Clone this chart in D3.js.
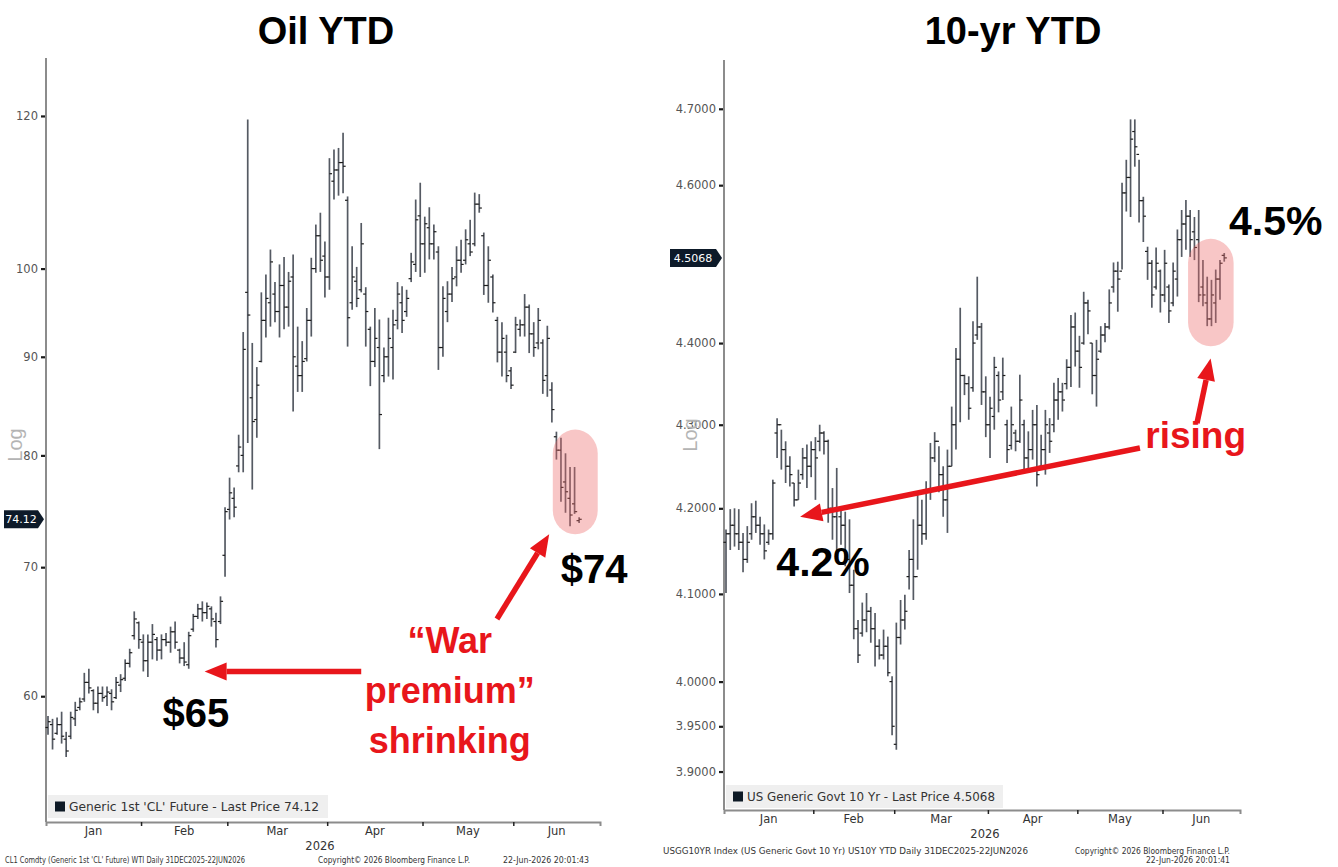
<!DOCTYPE html>
<html><head><meta charset="utf-8">
<script src="https://cdn.jsdelivr.net/npm/d3@7"></script>
<style>body{margin:0;background:#fff}svg{display:block}</style>
</head><body><svg id="c" width="1338" height="867"></svg>
<script>
// ---------- data ----------
const holidays = ["2026-01-01","2026-01-19","2026-02-16","2026-04-03","2026-05-25","2026-06-19"];
const monthLabels = ["Jan","Feb","Mar","Apr","May","Jun"];
const yearLabel = "2026";

const oilTicks = [60,70,80,90,100,120];
const oilHigh = [58.6,58.4,58.5,58.9,57.5,58.9,59.6,59.9,61.7,62.0,
 60.5,60.7,60.7,60.7,60.5,61.4,61.6,62.7,63.5,66.4,
 65.6,64.6,64.6,65.4,64.4,64.6,64.7,65.2,65.6,63.5,
 64.0,64.8,66.2,67.0,67.2,67.1,66.8,66.3,67.6,75.2,
 77.9,77.0,82.0,92.7,119.5,91.5,88.9,97.2,99.3,102.3,
 98.4,100.5,101.4,99.6,101.7,93.3,91.7,95.4,101.3,105.4,
 106.9,103.3,114.1,115.3,115.5,117.6,109.0,102.7,100.2,105.6,
 97.8,93.3,95.4,94.1,91.0,94.3,95.2,98.4,97.9,97.5,
 101.9,108.6,110.8,106.4,107.6,105.4,102.7,97.9,98.5,100.2,
 102.7,103.5,104.8,106.0,109.5,109.3,104.4,102.7,99.3,94.4,
 93.8,92.4,88.9,94.4,94.1,97.0,95.8,93.8,95.4,91.9,
 93.4,87.3,82.3,81.7,80.2,78.9,78.9,74.3];
const oilLow = [57.3,56.3,57.3,56.7,55.8,57.0,57.9,59.0,59.6,60.2,
 59.0,58.8,59.6,59.3,59.0,59.8,60.3,61.1,62.1,64.2,
 63.5,61.8,61.4,62.7,62.6,62.7,63.7,63.2,63.5,62.4,
 62.2,62.0,64.8,65.8,65.6,65.8,65.2,63.6,65.4,69.2,
 74.1,74.3,78.4,78.4,81.2,76.8,81.7,89.4,92.1,93.3,
 93.8,92.1,93.0,93.3,84.3,86.3,86.3,89.5,92.2,99.5,
 99.6,96.6,97.5,108.6,109.1,109.4,91.1,95.2,95.5,97.2,
 91.1,86.9,88.9,80.6,87.3,87.9,87.6,93.0,92.6,94.4,
 98.4,99.6,99.0,99.5,101.1,101.1,88.6,90.0,93.8,96.1,
 97.9,99.5,100.5,101.5,102.7,106.9,96.9,96.0,94.9,89.4,
 87.9,87.3,86.6,90.4,92.2,92.2,90.4,90.0,90.8,86.1,
 85.8,83.2,79.6,75.7,74.7,73.5,74.6,73.8];
const oilOpen = [57.8,58.0,57.4,58.0,57.0,57.2,58.4,59.2,59.8,61.0,
 60.4,59.5,60.2,60.0,60.2,59.9,60.8,61.3,62.4,64.5,
 65.5,64.0,62.6,64.0,64.2,63.4,64.2,64.0,64.8,63.4,
 62.8,62.3,65.0,66.0,66.6,66.3,66.6,65.6,65.6,71.0,
 75.0,76.0,79.0,80.0,97.2,85.7,83.5,89.5,94.0,96.0,
 97.0,95.0,98.0,95.5,99.0,89.0,88.0,89.8,94.0,100.0,
 104.0,101.5,99.0,111.0,112.5,113.5,108.5,96.0,98.5,97.5,
 97.0,93.0,89.5,91.0,88.0,90.0,91.0,94.0,96.0,95.0,
 98.8,100.5,106.5,103.0,105.0,103.0,102.0,91.0,95.0,97.0,
 99.0,101.0,101.0,103.0,103.0,108.0,104.0,98.0,99.0,94.0,
 90.5,90.5,88.5,90.5,93.0,93.5,95.5,92.5,91.5,91.5,
 88.0,86.5,81.8,80.5,77.5,76.0,75.5,74.0];
const oilClose = [58.2,57.0,58.0,57.2,56.2,58.5,59.0,59.6,61.0,60.6,
 59.5,60.2,59.9,60.3,59.6,61.0,61.2,62.4,63.2,65.8,
 64.2,62.6,64.0,64.6,63.4,64.2,64.0,64.8,64.0,62.8,
 62.5,64.5,66.0,66.6,66.3,66.8,65.8,64.2,67.2,74.8,
 76.5,75.2,80.8,90.8,94.6,83.3,87.0,94.0,96.5,100.8,
 95.0,98.0,95.5,98.5,90.0,88.0,89.5,94.0,100.0,104.0,
 101.0,99.0,112.0,112.5,113.5,113.0,94.3,99.0,96.5,103.0,
 95.0,89.5,92.0,84.0,90.0,92.0,93.5,97.0,94.0,96.5,
 100.8,106.0,103.0,105.5,103.0,104.5,91.0,96.5,97.0,98.8,
 101.0,100.5,103.5,102.0,108.0,107.5,98.0,101.0,96.0,90.5,
 92.0,88.0,87.0,93.5,93.5,95.5,92.5,91.0,94.0,87.5,
 92.0,84.5,80.5,77.0,76.6,74.5,74.8,74.12];

const ustTicks = [3.90,3.95,4.00,4.10,4.20,4.30,4.40,4.60,4.70];
const ustHigh = [4.175,4.199,4.200,4.199,4.171,4.179,4.206,4.209,4.190,4.181,
 4.175,4.234,4.308,4.294,4.280,4.262,4.230,4.246,4.272,4.276,
 4.280,4.285,4.300,4.292,4.282,4.224,4.248,4.198,4.196,4.187,
 4.128,4.070,4.090,4.101,4.085,4.078,4.048,4.059,4.051,4.006,
 4.067,4.093,4.099,4.151,4.187,4.216,4.210,4.232,4.278,4.291,
 4.274,4.250,4.270,4.322,4.394,4.444,4.361,4.359,4.427,4.483,
 4.425,4.359,4.334,4.383,4.365,4.382,4.306,4.322,4.294,4.361,
 4.306,4.292,4.318,4.324,4.288,4.318,4.308,4.351,4.357,4.351,
 4.380,4.435,4.438,4.409,4.464,4.454,4.400,4.404,4.421,4.425,
 4.467,4.501,4.502,4.603,4.633,4.686,4.686,4.633,4.585,4.521,
 4.504,4.520,4.492,4.517,4.473,4.501,4.543,4.568,4.581,4.568,
 4.559,4.568,4.504,4.483,4.479,4.492,4.504,4.513];
const ustLow = [4.101,4.151,4.155,4.151,4.125,4.136,4.163,4.171,4.157,4.140,
 4.157,4.163,4.260,4.246,4.230,4.226,4.202,4.210,4.234,4.224,
 4.237,4.210,4.268,4.264,4.183,4.163,4.148,4.157,4.132,4.101,
 4.048,4.021,4.051,4.056,4.044,4.017,4.025,4.025,4.006,3.940,
 3.924,4.042,4.059,4.105,4.093,4.128,4.157,4.163,4.210,4.255,
 4.219,4.190,4.171,4.250,4.270,4.303,4.336,4.306,4.340,4.404,
 4.324,4.285,4.260,4.294,4.315,4.330,4.254,4.270,4.268,4.278,
 4.246,4.242,4.258,4.226,4.246,4.240,4.266,4.291,4.306,4.316,
 4.343,4.346,4.371,4.345,4.398,4.411,4.337,4.322,4.388,4.401,
 4.417,4.463,4.439,4.492,4.566,4.559,4.624,4.552,4.527,4.479,
 4.444,4.467,4.438,4.451,4.425,4.446,4.458,4.508,4.517,4.508,
 4.504,4.451,4.446,4.421,4.421,4.425,4.454,4.502];
const ustOpen = [4.16,4.17,4.18,4.17,4.16,4.14,4.17,4.19,4.18,4.17,
 4.16,4.17,4.29,4.30,4.27,4.25,4.23,4.21,4.24,4.26,
 4.25,4.27,4.28,4.29,4.28,4.20,4.19,4.19,4.18,4.14,
 4.11,4.06,4.055,4.07,4.08,4.06,4.04,4.03,4.04,4.00,
 3.93,4.05,4.07,4.12,4.14,4.12,4.18,4.17,4.22,4.26,
 4.28,4.24,4.21,4.25,4.30,4.38,4.36,4.35,4.345,4.41,
 4.42,4.34,4.30,4.31,4.36,4.34,4.30,4.275,4.29,4.28,
 4.30,4.26,4.27,4.30,4.25,4.27,4.29,4.30,4.33,4.34,
 4.35,4.37,4.42,4.39,4.40,4.45,4.40,4.36,4.39,4.41,
 4.42,4.47,4.49,4.49,4.59,4.61,4.67,4.64,4.58,4.515,
 4.50,4.47,4.49,4.46,4.47,4.45,4.48,4.53,4.55,4.56,
 4.54,4.53,4.47,4.45,4.43,4.45,4.48,4.51];
const ustClose = [4.17,4.18,4.17,4.16,4.14,4.16,4.19,4.18,4.17,4.15,
 4.17,4.23,4.30,4.27,4.25,4.24,4.21,4.23,4.26,4.25,
 4.27,4.26,4.29,4.28,4.20,4.19,4.20,4.18,4.14,4.11,
 4.06,4.03,4.07,4.08,4.06,4.04,4.03,4.04,4.01,3.95,
 4.05,4.07,4.08,4.14,4.12,4.18,4.17,4.22,4.26,4.28,
 4.24,4.21,4.25,4.30,4.38,4.36,4.35,4.32,4.40,4.42,
 4.34,4.30,4.32,4.37,4.33,4.36,4.27,4.30,4.28,4.33,
 4.26,4.27,4.30,4.24,4.27,4.30,4.28,4.33,4.34,4.33,
 4.37,4.42,4.39,4.37,4.45,4.44,4.36,4.38,4.41,4.42,
 4.45,4.49,4.48,4.59,4.61,4.66,4.65,4.58,4.56,4.50,
 4.46,4.50,4.46,4.50,4.44,4.49,4.53,4.55,4.56,4.53,
 4.52,4.46,4.46,4.43,4.46,4.48,4.50,4.5068];

// ---------- helpers ----------
const svg = d3.select("#c");
const SANS = "'Liberation Sans', Arial, sans-serif";
const UI = "'DejaVu Sans', Verdana, sans-serif";
const RED = "#e8161b";
const fmtDay = d3.timeFormat("%Y-%m-%d");
const dates = d3.timeDay.range(new Date(2025, 11, 31), new Date(2026, 5, 23))
  .filter(d => d.getDay() % 6 !== 0 && !holidays.includes(fmtDay(d)));

function arrow(g, x1, y1, x2, y2) {
  const a = Math.atan2(y2 - y1, x2 - x1), L = 22, W = 9;
  const bx = x2 - L * Math.cos(a), by = y2 - L * Math.sin(a);
  g.append("line").attr("x1", x1).attr("y1", y1).attr("x2", bx).attr("y2", by)
    .attr("stroke", RED).attr("stroke-width", 5.5);
  g.append("path").attr("fill", RED).attr("d",
    `M${x2},${y2}L${bx + W * Math.sin(a)},${by - W * Math.cos(a)}L${bx - W * Math.sin(a)},${by + W * Math.cos(a)}Z`);
}

function panel(p) {
  const n = p.close.length;
  const x = d3.scaleLinear().domain(p.xDomain).range([p.left, p.right]);
  const y = d3.scaleLog().domain(p.yDomain).range([p.top, p.bottom]);
  const g = svg.append("g");

  // title
  g.append("text").attr("x", p.titleX).attr("y", 44).attr("text-anchor", "middle")
    .attr("font-family", SANS).attr("font-weight", "bold").attr("font-size", 38).text(p.title);

  // legend
  g.append("rect").attr("x", p.left + 2).attr("y", p.legendY).attr("width", p.legendW).attr("height", 23).attr("fill", "#efefef");
  g.append("rect").attr("x", p.left + 9).attr("y", p.legendY + 6.5).attr("width", 10).attr("height", 10).attr("fill", "#0e1a26");
  g.append("text").attr("x", p.left + 23).attr("y", p.legendY + 16).attr("font-family", UI).attr("font-size", 11.5)
    .attr("fill", "#333").attr("textLength", p.legendTL).attr("lengthAdjust", "spacingAndGlyphs").text(p.legend);

  // y axis
  const yAxis = d3.axisLeft(y).tickValues(p.ticks).tickFormat(p.fmt).tickSize(5).tickPadding(3);
  const yg = g.append("g").attr("transform", `translate(${p.left},0)`).call(yAxis);
  yg.select(".domain").remove();
  yg.selectAll(".tick line").attr("stroke", "#1a1a1a").attr("stroke-width", 2.2);
  yg.selectAll(".tick text").attr("font-family", UI).attr("font-size", 11.5).attr("fill", "#555");
  g.append("line").attr("x1", p.left).attr("x2", p.left).attr("y1", p.top).attr("y2", p.bottom)
    .attr("stroke", "#8c8c8c").attr("stroke-width", 2);

  // x axis (month boundaries)
  const bounds = [];
  for (let i = 1; i < n; i++) if (dates[i].getMonth() !== dates[i - 1].getMonth() && dates[i].getMonth() !== 0) bounds.push(i - 0.5);
  const xAxis = d3.axisBottom(x).tickValues(bounds).tickFormat("").tickSize(4);
  const xg = g.append("g").attr("transform", `translate(0,${p.bottom})`).call(xAxis);
  xg.select(".domain").attr("stroke", "#8c8c8c").attr("stroke-width", 2);
  xg.selectAll(".tick line").attr("stroke", "#222").attr("stroke-width", 1.5);
  const edges = [x.invert(p.left)].concat(bounds, [x.invert(p.right)]);
  monthLabels.forEach((m, k) => {
    g.append("text").attr("x", x((edges[k] + edges[k + 1]) / 2)).attr("y", p.bottom + 13)
      .attr("text-anchor", "middle").attr("font-family", UI).attr("font-size", 11.5).attr("fill", "#333").text(m);
  });
  g.append("text").attr("x", p.yearX).attr("y", p.bottom + 28).attr("text-anchor", "middle")
    .attr("font-family", UI).attr("font-size", 11.5).attr("fill", "#333").text(yearLabel);

  // footer
  p.footer.forEach(f => {
    g.append("text").attr("x", f.x).attr("y", f.y).attr("text-anchor", f.anchor || "start")
      .attr("font-family", UI).attr("font-size", 8).attr("fill", "#333")
      .attr("textLength", f.tl).attr("lengthAdjust", "spacingAndGlyphs").text(f.t);
  });

  // OHLC bars
  const bars = g.append("g").selectAll("g").data(d3.range(n)).join("g");
  bars.append("line").attr("x1", i => x(i)).attr("x2", i => x(i))
    .attr("y1", i => y(p.high[i])).attr("y2", i => y(p.low[i]))
    .attr("stroke", "#555a63").attr("stroke-width", 1.7);
  bars.append("line").attr("x1", i => x(i) - 2.6).attr("x2", i => x(i))
    .attr("y1", i => y(p.open[i])).attr("y2", i => y(p.open[i]))
    .attr("stroke", "#1c1c1c").attr("stroke-width", 1.2);
  bars.append("line").attr("x1", i => x(i)).attr("x2", i => x(i) + 2.6)
    .attr("y1", i => y(p.close[i])).attr("y2", i => y(p.close[i]))
    .attr("stroke", "#1c1c1c").attr("stroke-width", 1.2);

  // "Log" label
  g.append("text").attr("transform", `translate(${p.logX},${p.logY}) rotate(-90)`).attr("text-anchor", "middle")
    .attr("font-family", SANS).attr("font-size", 20).attr("fill", "#b4b4b4").text("Log");

  // last price tag
  const last = p.close[n - 1], ly = y(last), tx = p.left - 2, w = p.tagW;
  g.append("path").attr("fill", "#0d1a29")
    .attr("d", `M${tx - w},${ly - 9}L${tx - 6},${ly - 9}L${tx},${ly}L${tx - 6},${ly + 9}L${tx - w},${ly + 9}Z`);
  g.append("text").attr("x", tx - w / 2 - 3).attr("y", ly + 4).attr("text-anchor", "middle")
    .attr("font-family", UI).attr("font-size", 11).attr("fill", "#fff").text(p.tagFmt(last));

  // highlight box
  const hb = p.box;
  const bx0 = x(hb.i0), bx1 = x(hb.i1), by0 = y(hb.v0), by1 = y(hb.v1);
  g.append("rect").attr("x", bx0).attr("y", by0).attr("width", bx1 - bx0).attr("height", by1 - by0)
    .attr("rx", (bx1 - bx0) / 2).attr("ry", 24).attr("fill", "rgba(236,104,104,0.38)");

  // annotations
  const ag = g.append("g");
  p.arrows.forEach(a => arrow(ag, x(a.i1), y(a.v1), x(a.i2), y(a.v2)));
  p.labels.forEach(l => {
    const t = ag.append("text").attr("x", x(l.i)).attr("y", y(l.v)).attr("text-anchor", "middle")
      .attr("font-family", SANS).attr("font-weight", "bold").attr("font-size", l.size).attr("fill", l.color);
    l.lines.forEach((s, k) => t.append("tspan").attr("x", x(l.i)).attr("dy", k ? l.lh : 0).text(s));
  });
}

panel({
  title: "Oil YTD", titleX: 326,
  left: 46, right: 600, top: 58, bottom: 822,
  xDomain: [-0.44, 121.6], yDomain: [128.6, 51.63],
  ticks: oilTicks, fmt: d3.format("d"),
  high: oilHigh, low: oilLow, open: oilOpen, close: oilClose,
  legend: "Generic 1st 'CL' Future - Last Price 74.12", legendY: 795, legendW: 280, legendTL: 250,
  yearX: 320, logX: 22, logY: 445, tagW: 40, tagFmt: d3.format(".2f"),
  footer: [
    {t: "CL1 Comdty (Generic 1st 'CL' Future) WTI Daily 31DEC2025-22JUN2026", x: 5, y: 863, tl: 240},
    {t: "Copyright\u00a9 2026 Bloomberg Finance L.P.", x: 318, y: 863, tl: 152},
    {t: "22-Jun-2026 20:01:43", x: 503, y: 863, tl: 86}
  ],
  box: {i0: 111.2, i1: 121.1, v0: 82.5, v1: 72.8},
  arrows: [
    {i1: 69, v1: 61.8, i2: 34.5, v2: 61.8},
    {i1: 98.9, v1: 65.8, i2: 110.4, v2: 72.8}
  ],
  labels: [
    {i: 32.6, v: 57.8, size: 40, color: "#000", lines: ["$65"]},
    {i: 120.3, v: 68.7, size: 40, color: "#000", lines: ["$74"]},
    {i: 88.5, v: 63.2, size: 36, color: RED, lh: 50, lines: ["\u201cWar", "premium\u201d", "shrinking"]}
  ]
});

panel({
  title: "10-yr YTD", titleX: 1013,
  left: 724, right: 1240, top: 60, bottom: 810,
  xDomain: [-0.47, 120.7], yDomain: [4.765, 3.858],
  ticks: ustTicks, fmt: d3.format(".4f"),
  high: ustHigh, low: ustLow, open: ustOpen, close: ustClose,
  legend: "US Generic Govt 10 Yr - Last Price 4.5068", legendY: 785, legendW: 277, legendTL: 248,
  yearX: 985, logX: 697, logY: 435, tagW: 52, tagFmt: d3.format(".4f"),
  footer: [
    {t: "USGG10YR Index (US Generic Govt 10 Yr) US10Y YTD Daily 31DEC2025-22JUN2026", x: 663, y: 854, tl: 365},
    {t: "Copyright\u00a9 2026 Bloomberg Finance L.P.", x: 1230, y: 854, tl: 155, anchor: "end"},
    {t: "22-Jun-2026 20:01:41", x: 1230, y: 863, tl: 84, anchor: "end"}
  ],
  box: {i0: 108.5, i1: 119.2, v0: 4.531, v1: 4.396},
  arrows: [
    {i1: 97.2, v1: 4.272, i2: 17.4, v2: 4.190},
    {i1: 110.6, v1: 4.302, i2: 113.8, v2: 4.381}
  ],
  labels: [
    {i: 22.8, v: 4.121, size: 41, color: "#000", lines: ["4.2%"]},
    {i: 129.1, v: 4.536, size: 41, color: "#000", lines: ["4.5%"]},
    {i: 110.3, v: 4.272, size: 37, color: RED, lines: ["rising"]}
  ]
});
</script>
</body></html>
